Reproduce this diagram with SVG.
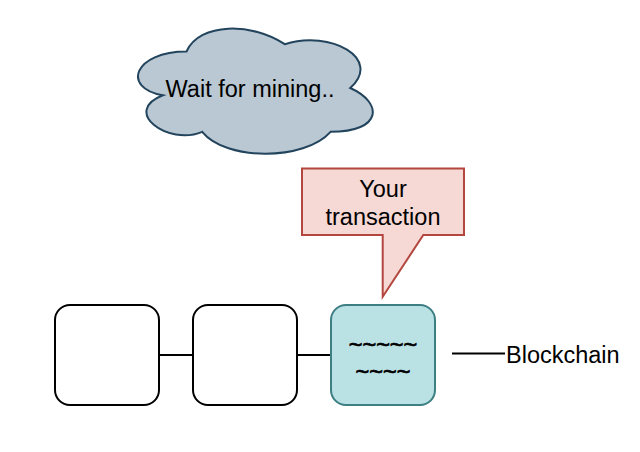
<svg xmlns="http://www.w3.org/2000/svg" width="640" height="452" viewBox="0 0 640 452">
<style>
text{font-family:"Liberation Sans",Arial,Helvetica,sans-serif;font-size:23.5px;fill:#000}
.tilde{stroke:#000;stroke-width:0.7}
.blk{fill:#fff;stroke:#000;stroke-width:2}
.conn line{stroke:#000;stroke-width:2}
</style>
<rect width="640" height="452" fill="#fff"/>
<g id="cloud">
<path d="M186.5,51.5 C134.1,51.5 121,88 162.9,95.3 C121,111.4 168.2,146.4 202.2,131.8 C225.8,161 304.4,161 330.6,131.8 C383,131.8 383,102.6 350.25,88 C383,58.8 330.6,29.6 284.75,44.2 C252,22.3 199.6,22.3 186.5,51.5 Z" fill="#bac8d3" stroke="#23445d" stroke-width="2"/>
<text x="250" y="97.3" text-anchor="middle">Wait for mining..</text>
</g>
<g id="callout">
<path d="M302,168.5 H464 V235 H423.3 L382.7,296.7 V235 H302 Z" fill="#f6d8d5" stroke="#b3473f" stroke-width="2"/>
<text x="383" y="197.3" text-anchor="middle">Your</text>
<text x="383" y="224.5" text-anchor="middle">transaction</text>
</g>
<g class="conn" id="connectors">
<line x1="159" y1="355" x2="193" y2="355"/>
<line x1="297" y1="355" x2="331" y2="355"/>
<line x1="452" y1="353.5" x2="505" y2="353.5"/>
</g>
<g id="block1"><rect class="blk" x="55" y="305" width="104" height="100" rx="15"/></g>
<g id="block2"><rect class="blk" x="193" y="305" width="104" height="100" rx="15"/></g>
<g id="block3">
<rect x="331" y="305" width="104" height="100" rx="15" fill="#bae1e4" stroke="#3e7f84" stroke-width="2"/>
<text class="tilde" x="383" y="352.5" text-anchor="middle">~~~~~</text>
<text class="tilde" x="383" y="379.5" text-anchor="middle">~~~~</text>
</g>
<g id="label"><text x="506" y="363.3">Blockchain</text></g>
</svg>
